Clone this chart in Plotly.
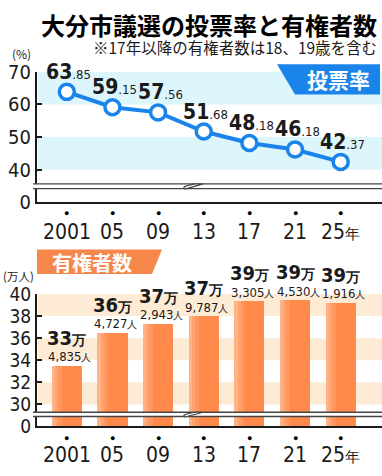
import plotly.graph_objects as go

# ---------------- data ----------------
years = ["2001", "05", "09", "13", "17", "21", "25"]
year_labels = ["2001", "05", "09", "13", "17", "21", "25<span style='font-size:15px'>年</span>"]
turnout = [63.85, 59.15, 57.56, 51.68, 48.18, 46.18, 42.37]          # %
voters = [334835, 364727, 372943, 379787, 393305, 394530, 391916]   # persons
turnout_ticks = [40, 50, 60, 70]
voter_ticks = [30, 32, 34, 36, 38, 40]

# ---------------- style ----------------
W, H = 382, 476
BLUE = "#1B84EA"
ORANGE = "#FF8A4C"
CYAN_BAND = "#DDF6FC"
ORANGE_BAND = "#FDEBD6"
NUM_FONT = "DejaVu Sans Condensed, Liberation Sans Narrow, Roboto Condensed, Roboto, sans-serif"
JP_FONT = "Noto Sans CJK JP, sans-serif"
INK = "#1a1a1a"

TOP_FLOOR = 30.1   # where the broken "0" sits on the turnout axis
BOT_FLOOR = 28.0   # where the broken "0" sits on the voters axis
BAR_W = 0.66


def px(x):
    return x / W


def py(y):
    return 1 - y / H


voters_man = [v / 10000 for v in voters]

fig = go.Figure()

fig.add_trace(go.Bar(
    x=years, y=voters_man, xaxis="x2", yaxis="y2",
    marker=dict(color=ORANGE, line=dict(width=0)), width=BAR_W,
    hoverinfo="skip",
))
# soft highlight on the left side of each bar (imitates the gradient)
for off, w, col in [(0.0, 0.07, "#FFB488"), (0.07, 0.07, "#FFA470"), (0.14, 0.08, "#FF975E")]:
    fig.add_trace(go.Bar(
        x=years, y=voters_man, xaxis="x2", yaxis="y2",
        marker=dict(color=col, line=dict(width=0)),
        offset=-BAR_W / 2 + off, width=w, hoverinfo="skip",
    ))

fig.add_trace(go.Scatter(
    x=years, y=turnout, xaxis="x", yaxis="y",
    mode="lines+markers",
    line=dict(color=BLUE, width=4),
    marker=dict(size=15, color="white", line=dict(color=BLUE, width=3.5)),
    cliponaxis=False, hoverinfo="skip",
))

XRANGE = [-0.653, 6.905]
axis_common = dict(showgrid=False, zeroline=False, showline=True,
                   linecolor=INK, linewidth=2)

shapes = []
annotations = []


def ann(**kw):
    kw.setdefault("showarrow", False)
    kw.setdefault("xanchor", "center")
    kw.setdefault("yanchor", "middle")
    annotations.append(kw)


# bands
for lo, hi in [(60, 70), (40, 50)]:
    shapes.append(dict(type="rect", xref="paper", yref="y", x0=px(38), x1=1,
                       y0=lo, y1=hi, fillcolor=CYAN_BAND, line=dict(width=0), layer="below"))
for lo, hi in [(38, 40), (34, 36), (30, 32)]:
    shapes.append(dict(type="rect", xref="paper", yref="y2", x0=px(38), x1=1,
                       y0=lo, y1=hi, fillcolor=ORANGE_BAND, line=dict(width=0), layer="below"))


def add_break(y_top, y_bot):
    shapes.append(dict(type="rect", xref="paper", yref="paper",
                       x0=px(31), x1=1, y0=py(y_bot), y1=py(y_top),
                       fillcolor="white", line=dict(width=0), layer="above"))
    for yy in (y_top, y_bot):
        shapes.append(dict(type="line", xref="paper", yref="paper",
                           x0=px(33), x1=1, y0=py(yy), y1=py(yy),
                           line=dict(color="#444", width=1.3), layer="above"))
    path = (f"M {px(185)},{py(y_bot + 0.5)} "
            f"L {px(203)},{py(y_top)} "
            f"L {px(196)},{py(y_top)} "
            f"Q {px(180)},{py(y_top + 2.5)} {px(185)},{py(y_bot + 0.5)} Z")
    shapes.append(dict(type="path", xref="paper", yref="paper", path=path,
                       fillcolor="white", line=dict(color="#444", width=1.2), layer="above"))


add_break(181, 186)
add_break(421.5, 426)

# label boxes
shapes.append(dict(type="path", xref="paper", yref="paper",
                   path=f"M {px(277)},{py(55)} L {px(380)},{py(55)} L {px(380)},{py(87)} L {px(295)},{py(87)} Z",
                   fillcolor=BLUE, line=dict(width=0), layer="above"))
shapes.append(dict(type="path", xref="paper", yref="paper",
                   path=f"M {px(37)},{py(250)} L {px(162)},{py(250)} L {px(152)},{py(276)} L {px(37)},{py(276)} Z",
                   fillcolor="#F6874A", line=dict(width=0), layer="above"))

ann(text="<b>投票率</b>", x=px(338), y=py(71), xref="paper", yref="paper",
    font=dict(family=JP_FONT, size=21, color="white"))
ann(text="<b>有権者数</b>", x=px(92), y=py(264), xref="paper", yref="paper",
    font=dict(family=JP_FONT, size=20, color="white"))

# titles
ann(text="<b>大分市議選の投票率と有権者数</b>", x=px(209), y=py(13),
    xref="paper", yref="paper",
    font=dict(family=JP_FONT, size=24, color="black", weight=900))
ann(text="※17年以降の有権者数は18、19歳を含む", x=px(379), y=py(37),
    xref="paper", yref="paper", xanchor="right",
    font=dict(family=JP_FONT, size=15.5, color=INK))
ann(text="(%)", x=px(21), y=py(44), xref="paper", yref="paper",
    font=dict(family=JP_FONT, size=12, color=INK))
ann(text="(万人)", x=px(18), y=py(278), xref="paper", yref="paper",
    font=dict(family=JP_FONT, size=11.5, color=INK))

# turnout value labels
for i, v in enumerate(turnout):
    ip, dp = f"{v:.2f}".split(".")
    ann(text=f"<b>{ip}</b><span style='font-size:13px'>.{dp}</span>",
        x=i, y=v, xref="x", yref="y", yshift=20, xshift=2,
        font=dict(family=NUM_FONT, size=21, color=INK))

# voter value labels
for i, v in enumerate(voters):
    man, rest = divmod(v, 10000)
    ann(text=f"<b>{man}<span style='font-size:14px'>万</span></b>",
        x=i, y=v / 10000, xref="x2", yref="y2", yshift=28,
        font=dict(family=NUM_FONT, size=20, color=INK))
    ann(text=f"{rest:,}<span style='font-size:10px'>人</span>",
        x=i, y=v / 10000, xref="x2", yref="y2", yshift=9, xshift=3,
        font=dict(family=NUM_FONT, size=13, color=INK))

# x labels with dots
for xr, ydot, ylab in [("x", 211, 232), ("x2", 448, 467)]:
    for i, lab in enumerate(year_labels):
        ann(text="●", x=i, y=py(ydot), xref=xr, yref="paper",
            font=dict(size=9, color="black"))
        ann(text=lab, x=i, y=py(ylab), xref=xr, yref="paper",
            font=dict(family=NUM_FONT, size=21, color=INK))

fig.update_layout(
    width=W, height=H,
    margin=dict(l=0, r=0, t=0, b=0),
    paper_bgcolor="white", plot_bgcolor="rgba(0,0,0,0)",
    showlegend=False,
    barmode="overlay",
    bargap=0,
    xaxis=dict(type="category", domain=[px(37), 1], range=XRANGE, anchor="y",
               showticklabels=False, ticks="", **axis_common),
    yaxis=dict(domain=[py(200), py(63)], range=[TOP_FLOOR, 70], anchor="x",
               tickvals=[TOP_FLOOR] + turnout_ticks,
               ticktext=["0"] + [str(t) for t in turnout_ticks],
               ticks="inside", ticklen=5, tickwidth=1.5, tickcolor=INK,
               tickfont=dict(family=NUM_FONT, size=20, color=INK), **axis_common),
    xaxis2=dict(type="category", domain=[px(37), 1], range=XRANGE, anchor="y2",
                showticklabels=False, ticks="", **axis_common),
    yaxis2=dict(domain=[py(436.5), py(297)], range=[BOT_FLOOR, 40], anchor="x2",
                tickvals=[BOT_FLOOR] + voter_ticks,
                ticktext=["0"] + [str(t) for t in voter_ticks],
                ticks="inside", ticklen=5, tickwidth=1.5, tickcolor=INK,
                tickfont=dict(family=NUM_FONT, size=19, color=INK), **axis_common),
    shapes=shapes,
    annotations=annotations,
)

fig.write_html(
    "out.html",
    config={"displayModeBar": False},
    post_script="document.body.style.margin='0';document.body.style.padding='0';"
                "document.documentElement.style.overflow='hidden';",
)
